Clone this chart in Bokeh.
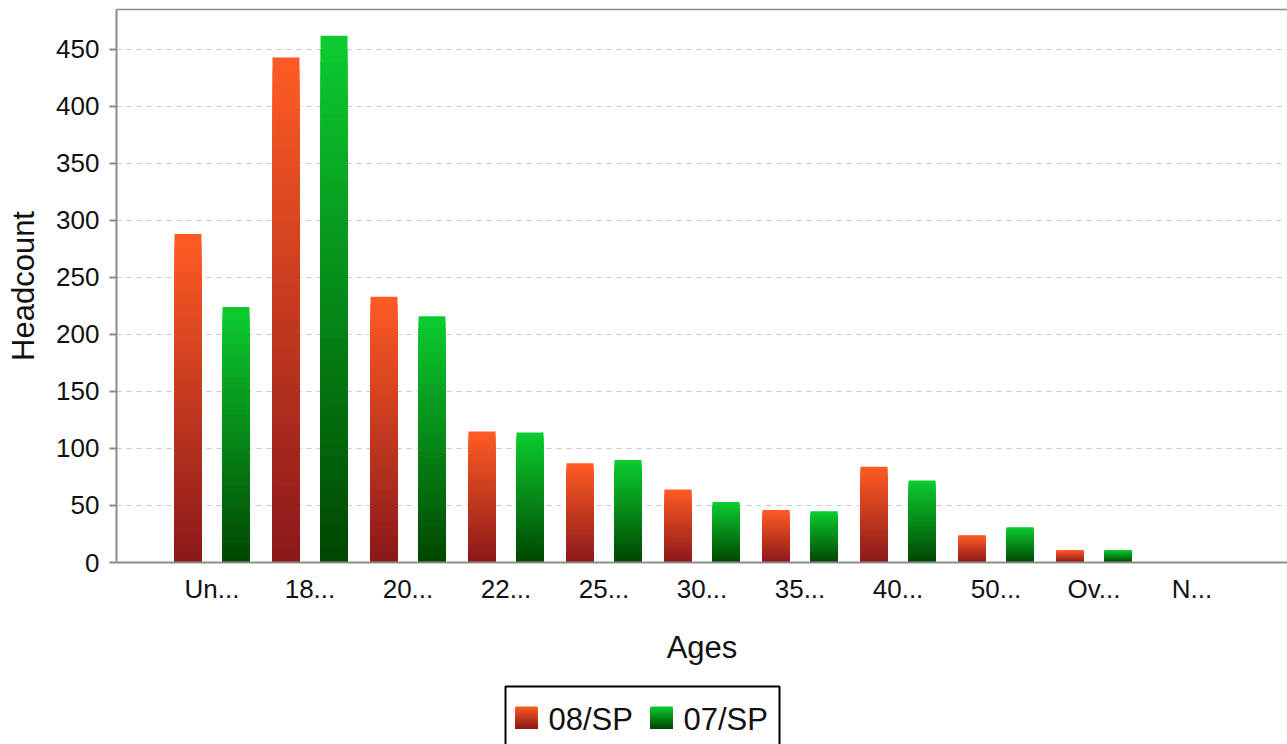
import numpy as np
from bokeh.plotting import figure
from bokeh.models import ColumnDataSource, Range1d, FixedTicker, LinearAxis
from bokeh.layouts import column
from bokeh.embed import file_html
from bokeh.resources import INLINE
from bokeh.core.properties import value
from bokeh.transform import dodge

# ---- data ----
categories = ["Un...", "18...", "20...", "22...", "25...", "30...", "35...", "40...", "50...", "Ov...", "N..."]
series_names = ["08/SP", "07/SP"]
values_08sp = [288, 443, 233, 115, 87, 64, 46, 84, 24, 11, 0]
values_07sp = [224, 462, 216, 114, 90, 53, 45, 72, 31, 11, 0]
y_ticks = [0, 50, 100, 150, 200, 250, 300, 350, 400, 450]

# ---- style ----
FONT = "Liberation Sans"
AXIS_COLOR = "#8c8c8c"
TEXT_COLOR = "#111111"
ORANGE_TOP, ORANGE_BOTTOM = (255, 92, 36), (138, 24, 26)
GREEN_TOP, GREEN_BOTTOM = (12, 204, 48), (0, 70, 0)
N_STEPS = 40
BAR_W = 0.275
OFFSET = 0.245

W = 1287
H_MAIN = 678
H_LEG = 66
BORDER_L = 116


def mix(c_bottom, c_top, t):
    r = [int(round(b + (a - b) * t)) for a, b in zip(c_top, c_bottom)]
    return "#%02x%02x%02x" % tuple(r)


def gradient_source(vals, c_top, c_bottom):
    idx, tops, colors = [], [], []
    for k in range(N_STEPS, 0, -1):
        col = mix(c_bottom, c_top, (k - 0.5) / N_STEPS)
        for i, v in enumerate(vals):
            idx.append(i)
            tops.append(v * k / N_STEPS)
            colors.append(col)
    return ColumnDataSource(dict(idx=idx, top=tops, color=colors))


p = figure(width=W, height=H_MAIN,
           x_range=Range1d(-0.9745, 10.974), y_range=Range1d(0, 485),
           output_backend="svg", toolbar_location=None,
           min_border_left=BORDER_L, min_border_right=0, min_border_top=9, min_border_bottom=116)
p.background_fill_color = "white"
p.border_fill_color = "white"
p.outline_line_color = None

src08 = gradient_source(values_08sp, ORANGE_TOP, ORANGE_BOTTOM)
src07 = gradient_source(values_07sp, GREEN_TOP, GREEN_BOTTOM)
p.vbar(x=dodge("idx", -OFFSET, range=p.x_range), top="top", bottom=0, width=BAR_W,
       fill_color="color", line_color=None, source=src08)
p.vbar(x=dodge("idx", OFFSET, range=p.x_range), top="top", bottom=0, width=BAR_W,
       fill_color="color", line_color=None, source=src07)

# grid
p.xgrid.visible = False
p.ygrid.ticker = FixedTicker(ticks=y_ticks)
p.ygrid.grid_line_color = "#c8c8c8"
p.ygrid.grid_line_dash = "5 5"
p.ygrid.grid_line_width = 1

# axes
for ax in (p.xaxis, p.yaxis):
    ax.axis_line_color = AXIS_COLOR
    ax.axis_line_width = 2
    ax.minor_tick_line_color = None
    ax.major_label_text_font = FONT
    ax.major_label_text_font_size = "26px"
    ax.major_label_text_color = TEXT_COLOR
    ax.axis_label_text_font = FONT
    ax.axis_label_text_font_size = "31px"
    ax.axis_label_text_font_style = "normal"
    ax.axis_label_text_color = TEXT_COLOR

p.xaxis.ticker = FixedTicker(ticks=list(range(len(categories))))
p.xaxis.major_label_overrides = {i: c for i, c in enumerate(categories)}
p.xaxis.major_tick_line_color = None
p.xaxis.major_tick_out = 0
p.xaxis.major_tick_in = 0
p.xaxis.major_label_standoff = 11
p.xaxis.axis_label = "Ages"
p.xaxis.axis_label_standoff = 23

p.yaxis.ticker = FixedTicker(ticks=y_ticks)
p.yaxis.major_tick_line_color = AXIS_COLOR
p.yaxis.major_tick_line_width = 2
p.yaxis.major_tick_out = 7
p.yaxis.major_tick_in = 0
p.yaxis.major_label_standoff = 10
p.yaxis.axis_label = "Headcount"
p.yaxis.axis_label_standoff = 12

# top border line only (no right border)
top_axis = LinearAxis(ticker=FixedTicker(ticks=[]), axis_line_color=AXIS_COLOR, axis_line_width=1.5,
                      major_tick_line_color=None, minor_tick_line_color=None,
                      major_tick_out=0, major_tick_in=0, major_label_text_font_size="0px",
                      major_label_standoff=0)
p.add_layout(top_axis, "above")

# ---- legend strip (own figure so the icons can carry the gradient) ----
# ranges are expressed in picture pixels so the strip lines up with the chart above
X0, X1 = BORDER_L, W
Y0, Y1 = H_MAIN, H_MAIN + H_LEG
lf = figure(width=W, height=H_LEG,
            x_range=Range1d(X0, X1), y_range=Range1d(Y1, Y0),
            output_backend="svg", toolbar_location=None,
            x_axis_location=None, y_axis_location=None,
            min_border_left=BORDER_L, min_border_right=0, min_border_top=0, min_border_bottom=0)
lf.grid.visible = False
lf.outline_line_color = None
lf.background_fill_color = "white"
lf.border_fill_color = "white"

lf.quad(left=[505], right=[779], top=[686], bottom=[790],
        fill_color="white", line_color="black", line_width=2)

ICON = 22
ICON_TOP = 706
icon_specs = [(515, ORANGE_TOP, ORANGE_BOTTOM, 548), (650, GREEN_TOP, GREEN_BOTTOM, 683)]
for (ix, ctop, cbot, tx), name in zip(icon_specs, series_names):
    lefts, rights, tops, bottoms, cols = [], [], [], [], []
    for k in range(N_STEPS, 0, -1):
        lefts.append(ix)
        rights.append(ix + ICON)
        bottoms.append(ICON_TOP + ICON)
        tops.append(ICON_TOP + ICON - ICON * k / N_STEPS)
        cols.append(mix(cbot, ctop, (k - 0.5) / N_STEPS))
    lf.quad(left=lefts, right=rights, top=tops, bottom=bottoms, fill_color=cols, line_color=None)
    lf.text(x=[tx], y=[718.7], text=[name], text_font=value(FONT), text_font_size="31px",
            text_color=TEXT_COLOR, text_baseline="alphabetic", text_align="left")

layout = column(p, lf, spacing=0)
open("out.html", "w").write(file_html(layout, INLINE))
